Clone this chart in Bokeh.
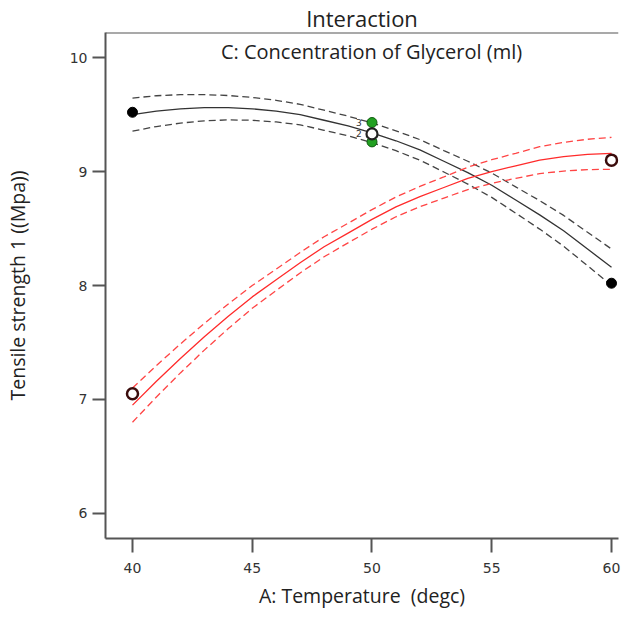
from bokeh.plotting import figure
from bokeh.models import FixedTicker, Range1d, Span, Label
from bokeh.core.properties import value
from bokeh.embed import file_html
from bokeh.resources import INLINE

# ---- data ----
temperature = [40, 41, 42, 43, 44, 45, 46, 47, 48, 49, 50,
               51, 52, 53, 54, 55, 56, 57, 58, 59, 60]
# C low (black)
black_mid = [9.50, 9.53, 9.55, 9.56, 9.56, 9.55, 9.53, 9.50, 9.45, 9.40, 9.34,
             9.27, 9.19, 9.09, 8.99, 8.88, 8.75, 8.62, 8.48, 8.32, 8.16]
black_hw = [0.145, 0.135, 0.125, 0.115, 0.107, 0.100, 0.095, 0.090, 0.088, 0.086, 0.086,
            0.087, 0.090, 0.094, 0.100, 0.107, 0.115, 0.125, 0.135, 0.147, 0.160]
# C high (red)
red_mid = [6.95, 7.16, 7.36, 7.55, 7.73, 7.90, 8.05, 8.20, 8.34, 8.46, 8.58,
           8.69, 8.78, 8.86, 8.94, 9.00, 9.05, 9.10, 9.13, 9.15, 9.16]
red_hw = [0.150, 0.138, 0.127, 0.117, 0.108, 0.100, 0.094, 0.090, 0.088, 0.086, 0.086,
          0.087, 0.089, 0.093, 0.098, 0.104, 0.110, 0.118, 0.126, 0.133, 0.140]

black_pts_x = [40, 60]
black_pts_y = [9.52, 8.02]
red_pts_x = [40, 60]
red_pts_y = [7.05, 9.10]
green_pts_x = [50, 50]
green_pts_y = [9.26, 9.43]
center_x = [50]
center_y = [9.33]
count_labels = ["3", "2"]
count_y = [9.43, 9.33]

x_ticks = [40, 45, 50, 55, 60]
y_ticks = [6, 7, 8, 9, 10]

black_up = [m + h for m, h in zip(black_mid, black_hw)]
black_lo = [m - h for m, h in zip(black_mid, black_hw)]
red_up = [m + h for m, h in zip(red_mid, red_hw)]
red_lo = [m - h for m, h in zip(red_mid, red_hw)]

p = figure(frame_width=513, frame_height=506, output_backend="svg", toolbar_location=None,
           x_range=Range1d(38.873, 60.292), y_range=Range1d(5.78, 10.22),
           min_border_left=98, min_border_right=8, min_border_top=25,
           min_border_bottom=0)
p.title.text = "Interaction"
p.title.align = "center"
p.title.text_font = "Open Sans"
p.title.text_font_size = "22px"
p.title.text_font_style = "normal"
p.title.text_color = "#222222"
p.title.standoff = 0
p.title.offset = 0

p.outline_line_color = None
p.grid.visible = False
p.background_fill_color = "white"

for ax in (p.xaxis, p.yaxis):
    ax.axis_line_color = "#555555"
    ax.axis_line_width = 2
    ax.major_tick_line_color = "#555555"
    ax.major_tick_line_width = 2
    ax.major_tick_in = 0
    ax.minor_tick_line_color = None
    ax.major_label_text_font = "DejaVu Sans"
    ax.major_label_text_font_size = "14px"
    ax.major_label_text_color = "#333333"
    ax.axis_label_text_font = "Open Sans"
    ax.axis_label_text_font_size = "19.5px"
    ax.axis_label_text_font_style = "normal"
    ax.axis_label_text_color = "#222222"

p.xaxis.ticker = FixedTicker(ticks=x_ticks)
p.yaxis.ticker = FixedTicker(ticks=y_ticks)
p.xaxis.major_tick_out = 14
p.yaxis.major_tick_out = 13
p.xaxis.major_label_standoff = 10
p.yaxis.major_label_standoff = 5
p.xaxis.axis_label = "A: Temperature \u00a0(degc)"
p.yaxis.axis_label = "Tensile strength 1 ((Mpa))"
p.xaxis.axis_label_standoff = 6
p.yaxis.axis_label_standoff = 36

p.add_layout(Span(location=10.22, dimension="width", line_color="#555555", line_width=2))

# black curves
p.line(temperature, black_mid, line_color="#333333", line_width=1.3)
p.line(temperature, black_up, line_color="#444444", line_width=1.3, line_dash="7 4")
p.line(temperature, black_lo, line_color="#444444", line_width=1.3, line_dash="7 4")
# red curves
p.line(temperature, red_mid, line_color="#ff2b2b", line_width=1.3)
p.line(temperature, red_up, line_color="#ff4545", line_width=1.3, line_dash="7 4")
p.line(temperature, red_lo, line_color="#ff4545", line_width=1.3, line_dash="7 4")

# design points
p.scatter(black_pts_x, black_pts_y, size=10, fill_color="black", line_color="black")
p.scatter(red_pts_x, red_pts_y, size=11, fill_color="white", line_color="#3a0c0c", line_width=2.5)
p.scatter(green_pts_x, green_pts_y, size=10, fill_color="#22a022", line_color="#0d5c0d", line_width=1)
p.scatter(center_x, center_y, size=11, fill_color="white", line_color="#222222", line_width=2.2)
p.text(x=[49.45, 49.45], y=count_y, text=count_labels, text_font=value("DejaVu Sans"),
       text_font_size="9px", text_align="center", text_baseline="middle", text_color="#333333")

p.add_layout(Label(x=49.98, y=10.057, text="C: Concentration of Glycerol (ml)",
                   text_font="Open Sans", text_font_size="20px", text_align="center",
                   text_baseline="middle", text_color="#222222"))

open("out.html", "w").write(file_html(p, INLINE))
